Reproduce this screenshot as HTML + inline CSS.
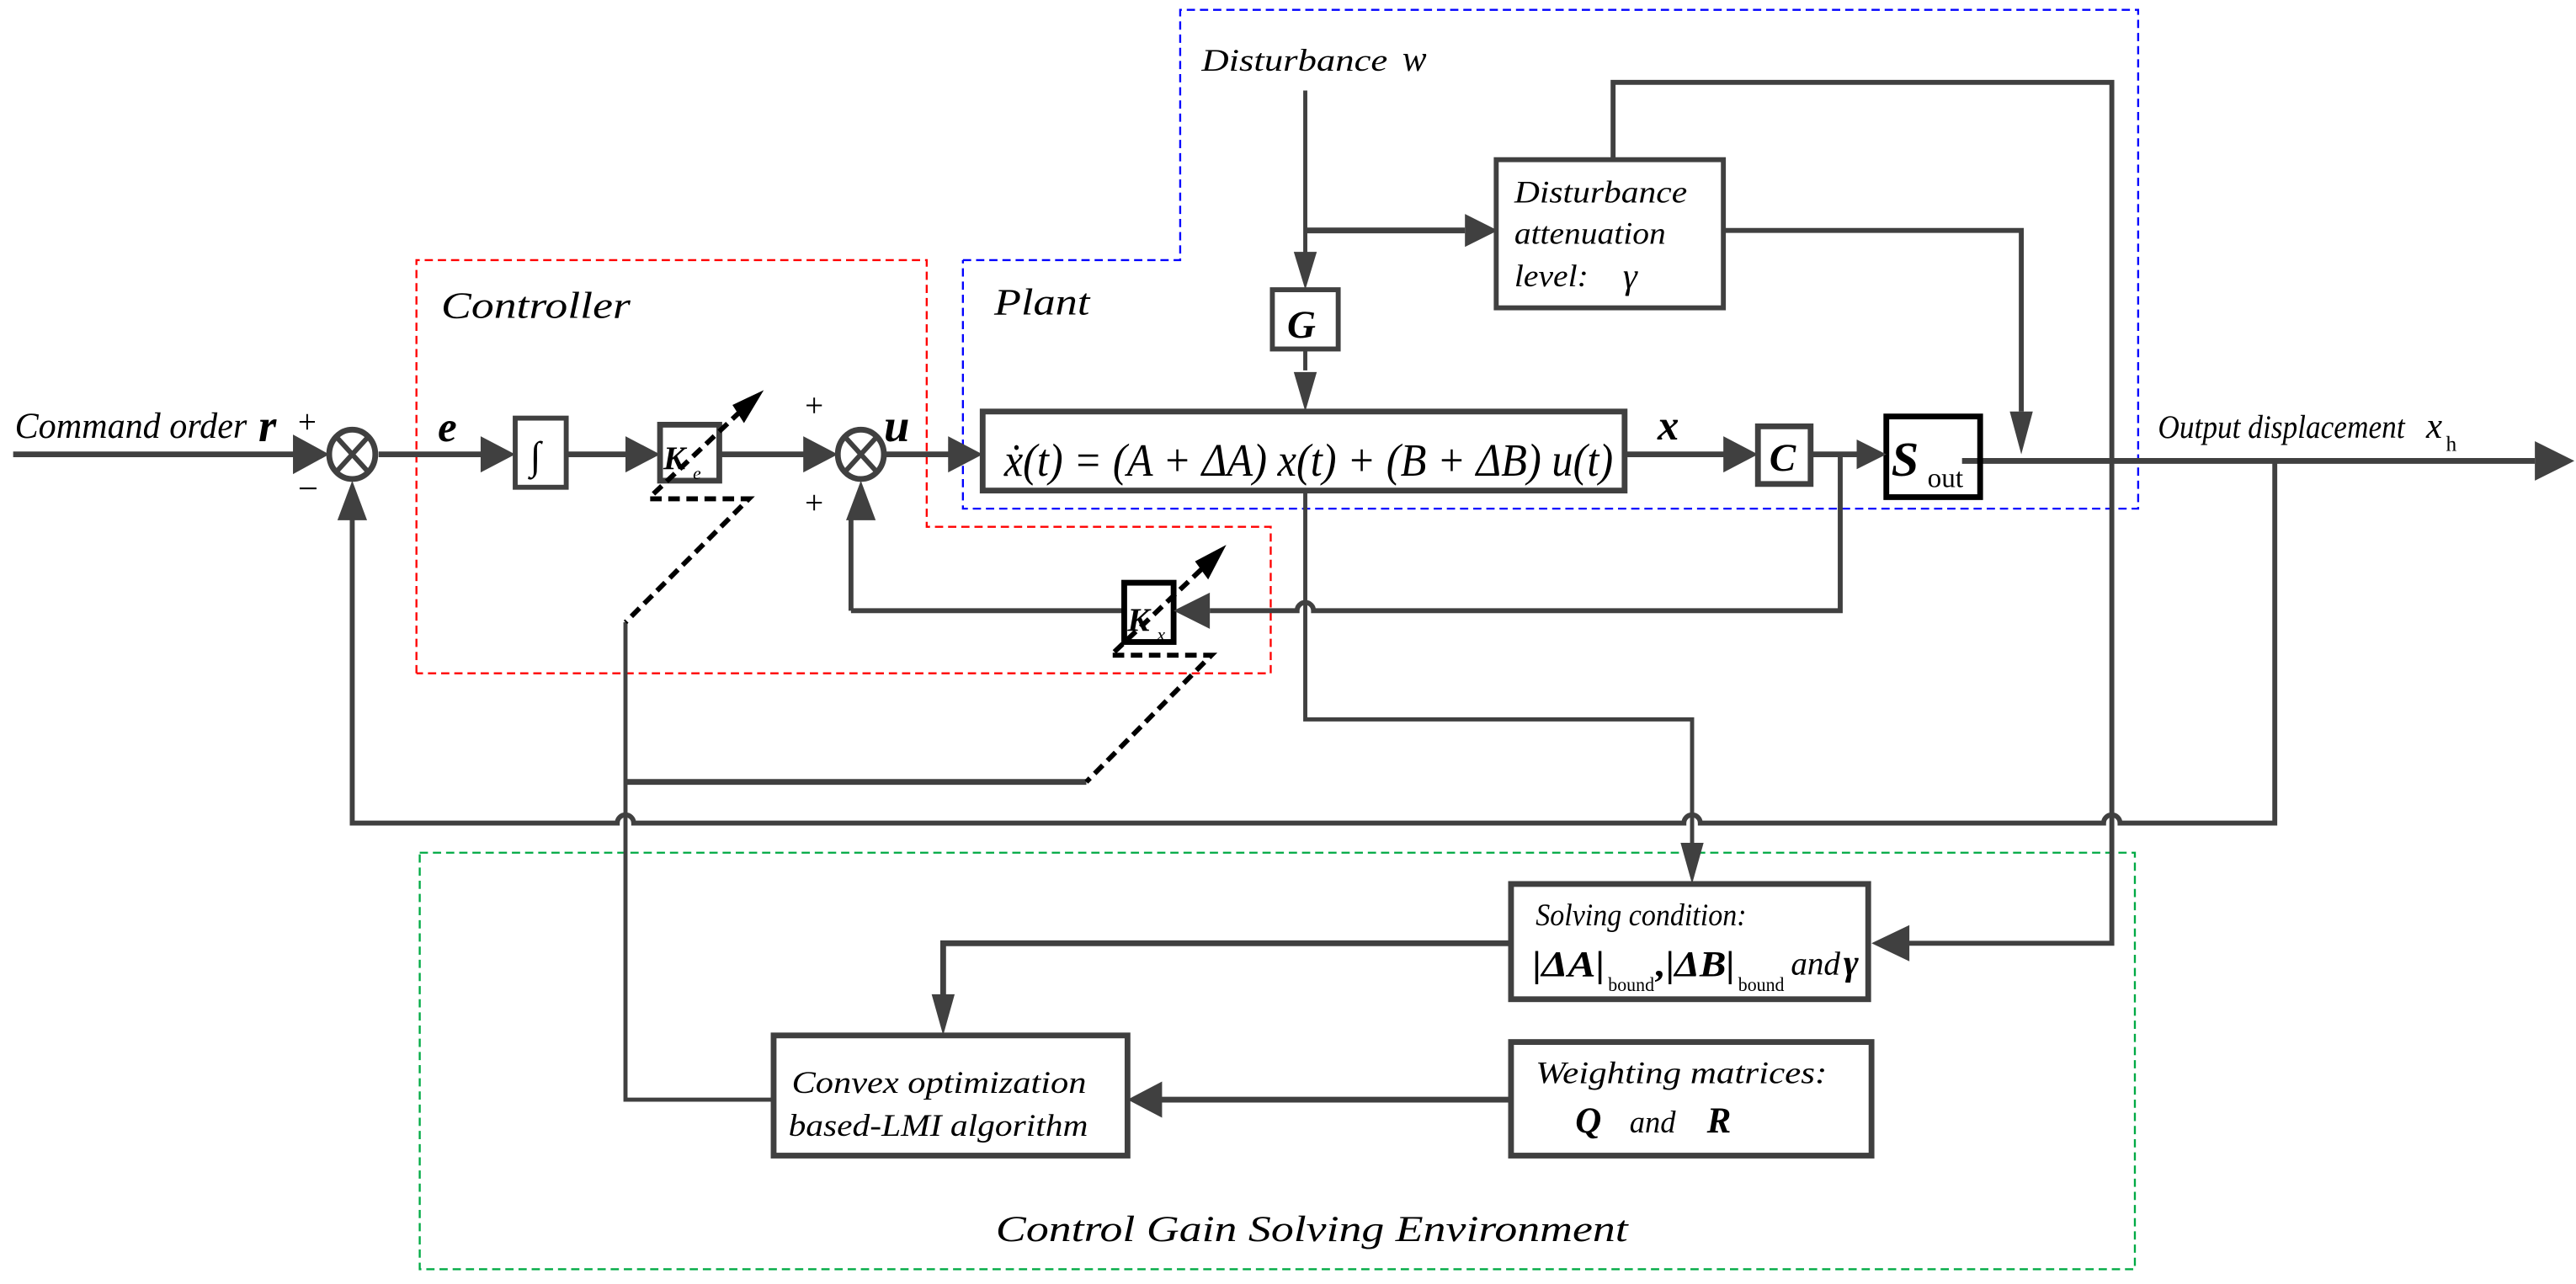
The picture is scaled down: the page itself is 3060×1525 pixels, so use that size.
<!DOCTYPE html>
<html><head><meta charset="utf-8"><style>
html,body{margin:0;padding:0;background:#fff;}
svg{display:block;}
text{font-family:"Liberation Serif","Times New Roman","DejaVu Serif",serif;font-style:italic;fill:#000;}
</style></head><body>
<svg width="3060" height="1525" viewBox="0 0 1565 780" preserveAspectRatio="none" xmlns="http://www.w3.org/2000/svg" font-family="Liberation Serif, DejaVu Serif, serif">
<polyline points="253,409 253,158 563,158 563,320 772,320 772,409 253,409" fill="none" stroke="#ff0000" stroke-width="1.2" stroke-dasharray="5,3"/>
<polyline points="585,158 717,158 717,6 1299,6 1299,309 585,309 585,158" fill="none" stroke="#0000ff" stroke-width="1.2" stroke-dasharray="5,3"/>
<rect x="255" y="518" width="1042" height="253" fill="none" stroke="#00aa44" stroke-width="1.2" stroke-dasharray="5,3"/>

<g stroke="#404040" fill="none" stroke-linecap="butt">
<line x1="8" y1="276" x2="190" y2="276" stroke-width="3.5"/>
<line x1="230" y1="276" x2="300" y2="276" stroke-width="3.5"/>
<line x1="344" y1="276" x2="390" y2="276" stroke-width="3.5"/>
<line x1="437" y1="276" x2="495" y2="276" stroke-width="3.5"/>
<line x1="538" y1="276" x2="585" y2="276" stroke-width="3.5"/>
<line x1="987" y1="276" x2="1055" y2="276" stroke-width="3.5"/>
<line x1="1100" y1="276" x2="1135" y2="276" stroke-width="3.5"/>
<line x1="1192" y1="280" x2="1540" y2="280" stroke-width="3.5"/>
<ellipse cx="214" cy="276" rx="14" ry="15" stroke-width="3.5"/>
<line x1="204" y1="265" x2="224" y2="287" stroke-width="3"/>
<line x1="224" y1="265" x2="204" y2="287" stroke-width="3"/>
<ellipse cx="523" cy="276" rx="14" ry="15" stroke-width="3.5"/>
<line x1="513" y1="265" x2="533" y2="287" stroke-width="3"/>
<line x1="533" y1="265" x2="513" y2="287" stroke-width="3"/>
<rect x="313" y="254" width="31" height="42" stroke-width="3"/>
<rect x="401" y="258" width="36" height="34" stroke-width="3.5"/>
<rect x="597" y="250" width="390" height="48" stroke-width="3.5"/>
<rect x="1068" y="259" width="32" height="35" stroke-width="3.5"/>
<rect x="773" y="176" width="40" height="36" stroke-width="3"/>
<rect x="909" y="97" width="138" height="90" stroke-width="3"/>
<rect x="918" y="537" width="217" height="70" stroke-width="3.5"/>
<rect x="470" y="629" width="215" height="73" stroke-width="3.5"/>
<rect x="918" y="633" width="219" height="69" stroke-width="3.5"/>
<path d="M214,312 L214,500 L375,500 A5,5 0 0 1 385,500 L1023,500 A5,5 0 0 1 1033,500 L1278,500 A5,5 0 0 1 1288,500 L1382,500 L1382,280" stroke-width="3"/>
<path d="M1118,276 L1118,371 L798,371 A5,5 0 0 0 788,371 L735,371" stroke-width="3"/>
<line x1="682" y1="371" x2="517" y2="371" stroke-width="3"/>
<line x1="517" y1="371" x2="517" y2="312" stroke-width="3"/>
<path d="M793,298 L793,437 L1028,437 L1028,513" stroke-width="2.5"/>
<line x1="793" y1="55" x2="793" y2="156" stroke-width="2.5"/>
<line x1="793" y1="140" x2="890" y2="140" stroke-width="3.5"/>
<line x1="793" y1="212" x2="793" y2="225" stroke-width="2.5"/>
<path d="M980,97 L980,50 L1283,50 L1283,573 L1157,573" stroke-width="3"/>
<path d="M1047,140 L1228,140 L1228,250" stroke-width="3"/>
<path d="M918,573 L573,573 L573,605" stroke-width="3.5"/>
<line x1="918" y1="668" x2="705" y2="668" stroke-width="3.5"/>
<path d="M470,668 L380,668 L380,378" stroke-width="2.5"/>
<line x1="380" y1="475" x2="660" y2="475" stroke-width="3.5"/>
</g>
<rect x="1146" y="253" width="57" height="49" fill="none" stroke="#000" stroke-width="3.5"/>
<rect x="683" y="354" width="30" height="36" fill="#fff" stroke="#000" stroke-width="3.5"/>

<g fill="#404040">
<polygon points="200,276 178,264 178,288"/>
<polygon points="214,292 205,316 223,316"/>
<polygon points="313,276 292,265 292,287"/>
<polygon points="401,276 380,265 380,287"/>
<polygon points="509,276 488,265 488,287"/>
<polygon points="523,292 514,316 532,316"/>
<polygon points="597,276 576,265 576,287"/>
<polygon points="1068,276 1047,265 1047,287"/>
<polygon points="1146,276 1128,267 1128,285"/>
<polygon points="1564,280 1540,268 1540,292"/>
<polygon points="713,371 735,360 735,382"/>
<polygon points="793,176 786,153 800,153"/>
<polygon points="793,250 786,226 800,226"/>
<polygon points="910,140 890,130 890,150"/>
<polygon points="1228,276 1221,250 1235,250"/>
<polygon points="1028,537 1021,512 1035,512"/>
<polygon points="1137,573 1160,562 1160,584"/>
<polygon points="573,629 566,604 580,604"/>
<polygon points="685,668 706,657 706,679"/>
</g>
<g stroke="#000" stroke-width="3" fill="none" stroke-dasharray="7,4">
<line x1="397" y1="300" x2="455" y2="245"/>
<polyline points="395,303 455,303 380,378"/>
<line x1="677" y1="396" x2="735" y2="341"/>
<polyline points="676,398 736,398 660,475"/>
</g>
<polygon points="464,237 452,257 445,246" fill="#000"/>
<polygon points="745,331 734,352 726,341" fill="#000"/>

<text x="9" y="266" font-size="22" textLength="141" lengthAdjust="spacingAndGlyphs">Command order</text>
<text x="157" y="268" font-size="28" font-weight="bold">r</text>
<text x="181" y="263" font-size="20" style="font-style:normal">+</text>
<text x="181" y="304" font-size="22" style="font-style:normal">−</text>
<text x="266" y="268" font-size="26" font-weight="bold">e</text>
<text x="322" y="285" font-size="24" style="font-style:normal">∫</text>
<text x="403" y="285" font-size="20" font-weight="bold">K</text>
<text x="421" y="291" font-size="11">e</text>
<text x="685" y="383" font-size="20" font-weight="bold">K</text>
<text x="703" y="389" font-size="11">x</text>
<text x="489" y="253" font-size="20" style="font-style:normal">+</text>
<text x="489" y="312" font-size="20" style="font-style:normal">+</text>
<text x="537" y="268" font-size="28" font-weight="bold">u</text>
<text x="268" y="193" font-size="23" textLength="115" lengthAdjust="spacingAndGlyphs">Controller</text>
<text x="604" y="191" font-size="23" textLength="58" lengthAdjust="spacingAndGlyphs">Plant</text>
<text x="730" y="43" font-size="19" textLength="113" lengthAdjust="spacingAndGlyphs">Disturbance</text>
<text x="852" y="43" font-size="22">w</text>
<text x="782" y="205" font-size="24" font-weight="bold">G</text>
<text x="920" y="123" font-size="19" textLength="105" lengthAdjust="spacingAndGlyphs">Disturbance</text>
<text x="920" y="148" font-size="19" textLength="92" lengthAdjust="spacingAndGlyphs">attenuation</text>
<text x="920" y="174" font-size="19" textLength="45" lengthAdjust="spacingAndGlyphs">level:</text>
<text x="986" y="175" font-size="22">γ</text>
<text x="610" y="289" font-size="28" textLength="370" lengthAdjust="spacingAndGlyphs">ẋ(t) = (A + ΔA) x(t) + (B + ΔB) u(t)</text>
<text x="1007" y="267" font-size="26" font-weight="bold">x</text>
<text x="1075" y="286" font-size="24" font-weight="bold">C</text>
<text x="1149" y="289" font-size="30" font-weight="bold">S</text>
<text x="1171" y="296" font-size="17" style="font-style:normal">out</text>
<text x="1311" y="266" font-size="20" textLength="150" lengthAdjust="spacingAndGlyphs">Output displacement</text>
<text x="1474" y="266" font-size="22">x</text>
<text x="1486" y="274" font-size="13" style="font-style:normal">h</text>
<text x="933" y="562" font-size="19" textLength="128" lengthAdjust="spacingAndGlyphs">Solving condition:</text>
<text x="931" y="593" font-size="22" font-weight="bold" textLength="44" lengthAdjust="spacingAndGlyphs">|ΔA|</text>
<text x="977" y="602" font-size="12" style="font-style:normal" textLength="28" lengthAdjust="spacingAndGlyphs">bound</text>
<text x="1006" y="593" font-size="22" font-weight="bold" textLength="48" lengthAdjust="spacingAndGlyphs">,|ΔB|</text>
<text x="1056" y="602" font-size="12" style="font-style:normal" textLength="28" lengthAdjust="spacingAndGlyphs">bound</text>
<text x="1088" y="592" font-size="20" textLength="30" lengthAdjust="spacingAndGlyphs">and</text>
<text x="1120" y="592" font-size="22" font-weight="bold">γ</text>
<text x="481" y="664" font-size="19" textLength="179" lengthAdjust="spacingAndGlyphs">Convex optimization</text>
<text x="479" y="690" font-size="19" textLength="182" lengthAdjust="spacingAndGlyphs">based-LMI algorithm</text>
<text x="933" y="658" font-size="19" textLength="177" lengthAdjust="spacingAndGlyphs">Weighting matrices:</text>
<text x="957" y="688" font-size="22" font-weight="bold">Q</text>
<text x="990" y="688" font-size="19" textLength="28" lengthAdjust="spacingAndGlyphs">and</text>
<text x="1037" y="688" font-size="22" font-weight="bold">R</text>
<text x="605" y="754" font-size="22" textLength="384" lengthAdjust="spacingAndGlyphs">Control Gain Solving Environment</text>
</svg>
</body></html>
